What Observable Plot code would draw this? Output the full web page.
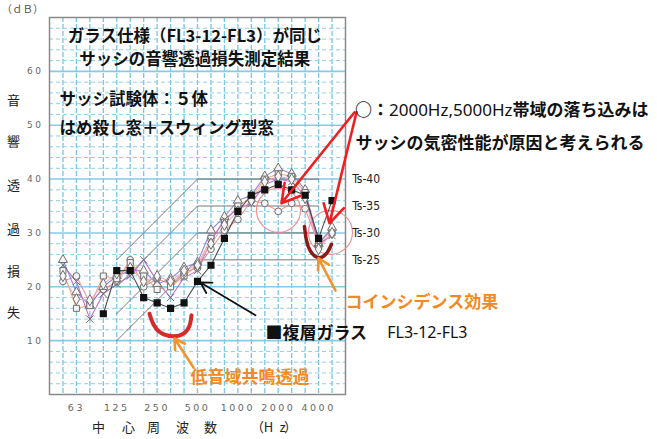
<!DOCTYPE html>
<html><head><meta charset="utf-8">
<script src="https://cdn.jsdelivr.net/npm/d3@7"></script>
<script src="https://cdn.jsdelivr.net/npm/@observablehq/plot@0.6"></script>
<style>
body{margin:0;background:#fff;}
#chart svg{display:block;}
g[aria-label="x-axis tick label"] text, g[aria-label="y-axis tick label"] text{letter-spacing:2.5px;}
</style></head><body><div id="chart"></div>
<script>
// 1/3 octave band centre frequencies (index 0 = 40 Hz)
const bands = ["40","50","63","80","100","125","160","200","250","315","400","500","630","800","1000","1250","1600","2000","2500","3150","4000","5000","6300"];
const tickBands = ["63","125","250","500","1000","2000","4000"];
const yTicks = [10,20,30,40,50,60];

// Sash specimens (50 Hz .. 5000 Hz)
const sashBands = ["50","63","80","100","125","160","200","250","315","400","500","630","800","1000","1250","1600","2000","2500","3150","4000","5000"];
const sash1 = [21,22,17,19.5,21,25,20,21.5,20.5,22.7,23.5,27,30.5,32.5,36,35.5,34,35.5,34.5,28,30.5];
const sash2 = [25,19,16.5,20,22,23,23,20.5,21.5,23.6,24.5,30.5,33,36,37,40.5,42,41,38,28,31];
const sash3 = [23,16,16.5,22,21.5,24.5,22,19.5,20,22,24,29,32,35,36.5,40,41,40.5,37.5,27.5,30];
const sash4 = [24,21,14,18.7,20.5,22,25,21,18,21.7,23,28.5,32.5,34.5,35.5,39,40,39.5,37,28,29.5];
const sash5 = [22,17.7,17.5,20.5,22.5,23.5,21,22,21,23,24,28,31.5,34,36,39.5,40.5,40,36.5,27,30];
const sashNames = ["試験体1","試験体2","試験体3","試験体4","試験体5"];
const sashSymbols = ["circle","triangle","square","times","diamond"];
const sashColors = ["#ec8a86","#8a7cd0","#f2a36b","#b860c8","#eaa6c6"];

// Double glazing FL3-12-FL3 (100 Hz .. 5000 Hz)
const glassBands = ["100","125","160","200","250","315","400","500","630","800","1000","1250","1600","2000","2500","3150","4000","5000"];
const glass = [15,23,23,18,17,16,17,21,24,29,34,37,38,39,38,37,29,36];

// Ts grade reference curves
const tsLevels = [40,35,30,25];
const tsBands = ["125","500","4000"];
const tsOffsets = [-15,0,0];

const bi = f => bands.indexOf(f);
const sashAll = [sash1,sash2,sash3,sash4,sash5];
const sashRows = sashAll.flatMap((vals,s) => vals.map((v,i) => ({s, x: bi(sashBands[i]), y: v})));
const glassRows = glass.map((v,i) => ({x: bi(glassBands[i]), y: v}));
const tsRows = tsLevels.flatMap(t => tsBands.map((f,i) => ({t, x: bi(f), y: t + tsOffsets[i]})));

const minorY = d3.range(2,70,2).filter(v => v % 10 !== 0);
const vgrid = d3.range(1,22);

const CJK = "'Noto Sans CJK JP','Noto Sans',sans-serif";

const marks = [
  Plot.ruleX(vgrid, {stroke:"#79c6e4", strokeWidth:1.3, strokeDasharray:"5,2"}),
  Plot.ruleY(minorY, {stroke:"#8fd0ea", strokeWidth:1, strokeDasharray:"4,3"}),
  Plot.ruleY(yTicks, {stroke:"#86cbe6", strokeWidth:1.6}),
  Plot.frame({stroke:"#8a8a8a", strokeWidth:1.5}),
  Plot.axisX(tickBands.map(bi), {tickFormat: i => bands[i], tickSize:0, tickPadding:10, fontSize:9.5, fill:"#666", label:null, fontFamily:"'DejaVu Sans',sans-serif"}),
  Plot.axisY(yTicks, {tickSize:0, tickPadding:6, fontSize:9, fill:"#666", label:null, fontFamily:"'DejaVu Sans',sans-serif"}),
  // Ts curves
  Plot.line(tsRows, {x:"x", y:"y", z:"t", stroke:"#6a6a6a", strokeWidth:0.9}),
  // highlight circles
  Plot.dot([{x:17.02,y:34.2},{x:20.88,y:30.1}], {x:"x", y:"y", r:22, stroke:"#f08c8c", strokeWidth:1.1, fill:"none"}),
  // sash series
  Plot.line(sashRows, {x:"x", y:"y", z:"s", stroke: d => sashColors[d.s], strokeWidth:1.1, strokeOpacity:0.9}),
  // glass series
  Plot.line(glassRows, {x:"x", y:"y", stroke:"#4a4a4a", strokeWidth:1.1}),
  Plot.dot(sashRows, {x:"x", y:"y", symbol: d => sashSymbols[d.s], r:3.4, stroke:"#707070", strokeWidth:1, fill:"#f4f4f4"}),
  Plot.dot(glassRows, {x:"x", y:"y", symbol:"square", r:3.2, fill:"#111", stroke:"#111"}),
  // red U shapes
  Plot.line([{x:7.43,y:15.0},{x:7.73,y:13.0},{x:8.25,y:11.5},{x:9.14,y:10.8},{x:9.96,y:11.3},{x:10.41,y:12.8},{x:10.55,y:14.7}], {x:"x", y:"y", curve:"natural", stroke:"#d42a2a", strokeWidth:4}),
  Plot.line([{x:18.95,y:31.2},{x:19.1,y:28.6},{x:19.4,y:26.6},{x:19.99,y:25.4},{x:20.59,y:26.2},{x:20.96,y:27.9}], {x:"x", y:"y", curve:"natural", stroke:"#8b1a1a", strokeWidth:3.5}),
  // arrows
  Plot.arrow([{x1:22.67,y1:52.4,x2:17.24,y2:35.5},{x1:22.82,y1:52.4,x2:20.81,y2:31.8}], {x1:"x1",y1:"y1",x2:"x2",y2:"y2", stroke:"#f01e1e", strokeWidth:2.6, headLength:12}),
  Plot.arrow([{x1:15.31,y1:14.7,x2:11.22,y2:20.8}], {x1:"x1",y1:"y1",x2:"x2",y2:"y2", stroke:"#111", strokeWidth:1.8, headLength:10}),
  Plot.arrow([{x1:10.7,y1:5.0,x2:9.29,y2:10.4},{x1:21.26,y1:19.3,x2:19.99,y2:25.3}], {x1:"x1",y1:"y1",x2:"x2",y2:"y2", stroke:"#f4922c", strokeWidth:2.6, headLength:10}),
  // Ts labels
  Plot.text(tsLevels, {x:22.5, y: d => d, text: d => "Ts-" + d, textAnchor:"start", fontSize:12, fill:"#222", fontFamily:"'Liberation Sans Narrow','DejaVu Sans Condensed',sans-serif"}),
  // titles inside frame
  Plot.text(["ガラス仕様（FL3-12-FL3）が同じ","サッシの音響透過損失測定結果"], {x:10.8, y:[66.4,62.1], text: d => d, fontSize:16.5, fontWeight:"bold", fill:"#111", fontFamily:CJK}),
  Plot.text(["サッシ試験体：５体","はめ殺し窓＋スウィング型窓"], {x:0.74, y:[54.8,49.4], text: d => d, textAnchor:"start", fontSize:16.5, fontWeight:"bold", fill:"#111", fontFamily:CJK}),
  // right-side notes
  Plot.text(["サッシの気密性能が原因と考えられる"], {x:22.74, y:46.6, text: d => d, textAnchor:"start", fontSize:17, fontWeight:"bold", fill:"#111", fontFamily:CJK}),
  Plot.text(["コインシデンス効果"], {x:22.0, y:17.1, text: d => d, textAnchor:"start", fontSize:17, fontWeight:"bold", fill:"#f08a24", fontFamily:CJK}),
  Plot.text(["■複層ガラス"], {x:16.05, y:11.3, text: d => d, textAnchor:"start", fontSize:17, fontWeight:"bold", fill:"#111", fontFamily:CJK}),
  Plot.text(["FL3-12-FL3"], {x:25.1, y:11.5, text: d => d, textAnchor:"start", fontSize:16, fill:"#111", fontFamily:"'Noto Sans','DejaVu Sans',sans-serif"}),
  Plot.text(["低音域共鳴透過"], {x:10.48, y:3.2, text: d => d, textAnchor:"start", fontSize:17, fontWeight:"bold", fill:"#f08a24", fontFamily:CJK}),
  // axis titles
  Plot.text(["（ｄＢ）"], {x:-2.0, y:71.4, text: d => d, fontSize:10.5, fill:"#555", fontFamily:CJK}),
  Plot.text(["音","響","透","過","損","失"], {x:-2.68, y:[54.6,47.0,38.8,30.5,22.7,15.2], text: d => d, fontSize:13, fill:"#222", fontFamily:CJK}),
  Plot.text(["中","心","周","波","数","（","H","z","）"], {x:[3.64,5.87,7.73,9.89,11.97,15.46,16.28,17.32,17.92], y:-6.1, text: d => d, fontSize:13, fill:"#222", fontFamily:CJK})
];

const plot = Plot.plot({
  width:657, height:439,
  marginLeft:49, marginRight:312, marginTop:17, marginBottom:45,
  x:{domain:[0,22], axis:null},
  y:{domain:[0,70], axis:null},
  style:{fontFamily:CJK, background:"#fff", overflow:"visible"},
  marks
});

// first right-side note line with mixed weights
const svg = d3.select(plot);
const xs = plot.scale("x"), ys = plot.scale("y");
const t = svg.append("text")
  .attr("x", xs.apply(22.74)).attr("y", ys.apply(52.7))
  .attr("text-anchor","start")
  .attr("dy","0.32em").attr("font-size",17).attr("fill","#111")
  .attr("font-family", CJK);
t.append("tspan").attr("font-weight","bold").text("○：");
t.append("tspan").attr("font-family","'Noto Sans','DejaVu Sans',sans-serif").text("2000Hz,5000Hz");
t.append("tspan").attr("font-weight","bold").text("帯域の落ち込みは");

document.getElementById("chart").appendChild(plot);
</script></body></html>
